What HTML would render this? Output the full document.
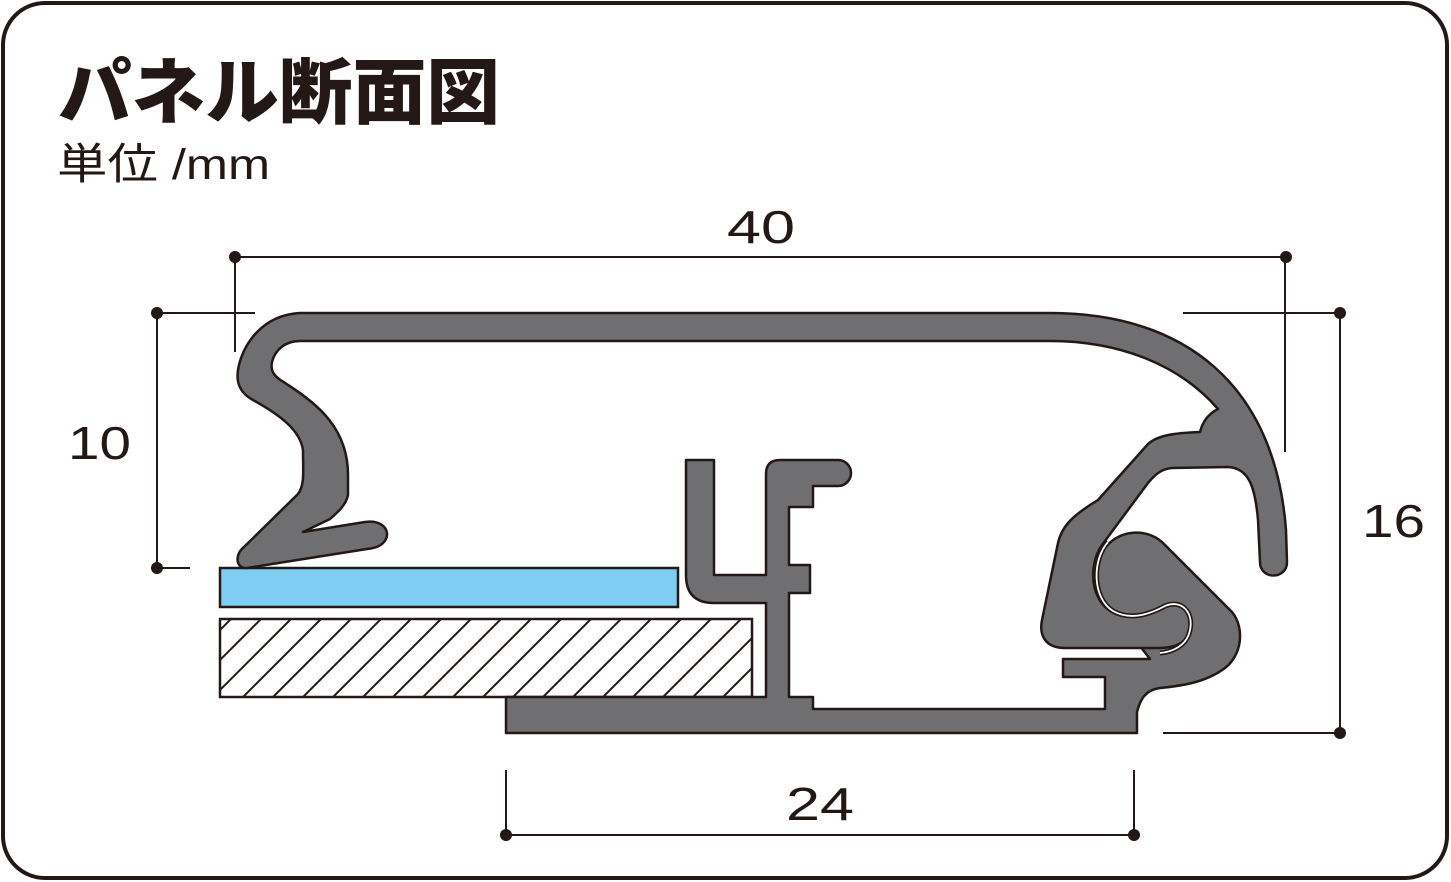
<!DOCTYPE html>
<html><head><meta charset="utf-8"><style>
html,body{margin:0;padding:0;background:#fff;}
svg{display:block}
</style></head><body>
<svg width="1451" height="882" viewBox="0 0 1451 882" xmlns="http://www.w3.org/2000/svg">
<defs>
<clipPath id="hc"><rect x="220" y="619" width="532" height="78"/></clipPath>
</defs>
<rect x="3" y="3" width="1444" height="875" rx="42" fill="#fff" stroke="#231815" stroke-width="4"/>
<text x="58" y="118" font-family="'Liberation Sans','Noto Sans CJK JP',sans-serif" font-weight="900" font-size="72" fill="#231815" textLength="442" lengthAdjust="spacingAndGlyphs">パネル断面図</text>
<text x="57" y="179" font-family="'Liberation Sans','Noto Sans CJK JP',sans-serif" font-size="43" fill="#231815" textLength="213" lengthAdjust="spacingAndGlyphs">単位 /mm</text>

<g stroke="#231815" stroke-width="2" fill="none">
<line x1="235" y1="257" x2="1286" y2="257"/>
<line x1="235" y1="257" x2="235" y2="352"/>
<line x1="1285" y1="257" x2="1285" y2="452"/>
<line x1="157" y1="313" x2="255" y2="313"/>
<line x1="157" y1="313" x2="157" y2="568"/>
<line x1="157" y1="568" x2="190" y2="568"/>
<line x1="1183" y1="313" x2="1340" y2="313"/>
<line x1="1340" y1="313" x2="1340" y2="733"/>
<line x1="1163" y1="733" x2="1340" y2="733"/>
<line x1="506" y1="835" x2="1134" y2="835"/>
<line x1="506" y1="770" x2="506" y2="835"/>
<line x1="1134" y1="770" x2="1134" y2="835"/>
</g>
<g fill="#231815">
<circle cx="235" cy="257" r="6"/><circle cx="1286" cy="257" r="6"/>
<circle cx="157" cy="313" r="6"/><circle cx="157" cy="568" r="6"/>
<circle cx="1340" cy="313" r="6"/><circle cx="1340" cy="733" r="6"/>
<circle cx="506" cy="835" r="6"/><circle cx="1134" cy="835" r="6"/>
</g>
<g font-family="'Liberation Sans',sans-serif" font-size="46" fill="#231815">
<text x="727" y="243" textLength="68" lengthAdjust="spacingAndGlyphs">40</text>
<text x="68" y="459" textLength="63" lengthAdjust="spacingAndGlyphs">10</text>
<text x="1362" y="537" textLength="63" lengthAdjust="spacingAndGlyphs">16</text>
<text x="786" y="820" textLength="68" lengthAdjust="spacingAndGlyphs">24</text>
</g>

<rect x="220" y="568" width="458" height="39" fill="#7ecef4" stroke="#231815" stroke-width="2.5"/>
<rect x="220" y="619" width="532" height="78" fill="#fff" stroke="#231815" stroke-width="2.5"/>
<g clip-path="url(#hc)" stroke="#231815" stroke-width="2">
<path d="M150,700 L235,615 M180,700 L265,615 M210,700 L295,615 M240,700 L325,615 M270,700 L355,615 M300,700 L385,615 M330,700 L415,615 M360,700 L445,615 M390,700 L475,615 M420,700 L505,615 M450,700 L535,615 M480,700 L565,615 M510,700 L595,615 M540,700 L625,615 M570,700 L655,615 M600,700 L685,615 M630,700 L715,615 M660,700 L745,615 M690,700 L775,615 M720,700 L805,615 M750,700 L835,615"/>
</g>

<path d="M506,733 L506,697 L766,697 L766,603 L714,603 Q686,603 686,575 L686,460 L714,460 L714,575 L766,575 L766,474 Q766,460 780,460 L838,460 A13,13 0 0 1 838,486 L813,486 L813,507 L789,507 L789,565 L810,565 L810,593 L789,593 L789,697 L813,697 L813,709 L1105,709 L1105,677 L1063,677 L1063,659 L1150,659 L1120,620 C1095,610 1090,570 1105,548 C1120,528 1150,528 1165,545 L1232,612 C1245,628 1242,655 1225,668 C1205,683 1180,686 1160,688 C1145,690 1140,700 1137,712 L1137,733 Z" fill="#6f6e70" stroke="#231815" stroke-width="2.5" stroke-linejoin="round"/>

<path d="M300,313 L1050,313 C1185,313 1275,385 1286,530 L1287,562 C1287,580 1260,580 1260,562 L1258,520 C1255,485 1248,468 1228,467 L1172,468 C1160,469 1154,476 1148,483 L1102,545 C1088,565 1090,600 1112,612 C1130,622 1150,615 1165,607 C1180,600 1193,612 1190,630 C1187,645 1172,648 1158,648 L1065,648 C1045,648 1039,635 1042,620 L1058,543 C1062,525 1075,515 1090,505 L1098,500 L1148,444 C1158,435 1175,433 1200,432 C1203,420 1210,413 1218,409 C1180,365 1120,341 1050,341 L300,341 C285,341 275,350 272,362 C270,372 275,377 285,383 C320,405 348,430 348,475 L348,495 C346,505 338,512 330,519 L303,532 L365,522 C392,518 396,547 367,549 L247,568 C236,569 234,555 244,547 L298,494 C305,485 303,470 303,450 C300,430 280,415 253,400 C240,393 236,383 238,370 C242,345 262,315 300,313 Z" fill="#6f6e70" stroke="#231815" stroke-width="2.5" stroke-linejoin="round"/>
<path d="M1108,542 C1092,560 1092,598 1113,611 C1131,621 1150,614 1165,606 C1181,599 1194,612 1190,630 C1187,646 1172,652 1160,653" fill="none" stroke="#231815" stroke-width="5"/>
<path d="M1108,542 C1092,560 1092,598 1113,611 C1131,621 1150,614 1165,606 C1181,599 1194,612 1190,630 C1187,646 1172,652 1160,653" fill="none" stroke="#fff" stroke-width="1.8"/>
</svg>
</body></html>
